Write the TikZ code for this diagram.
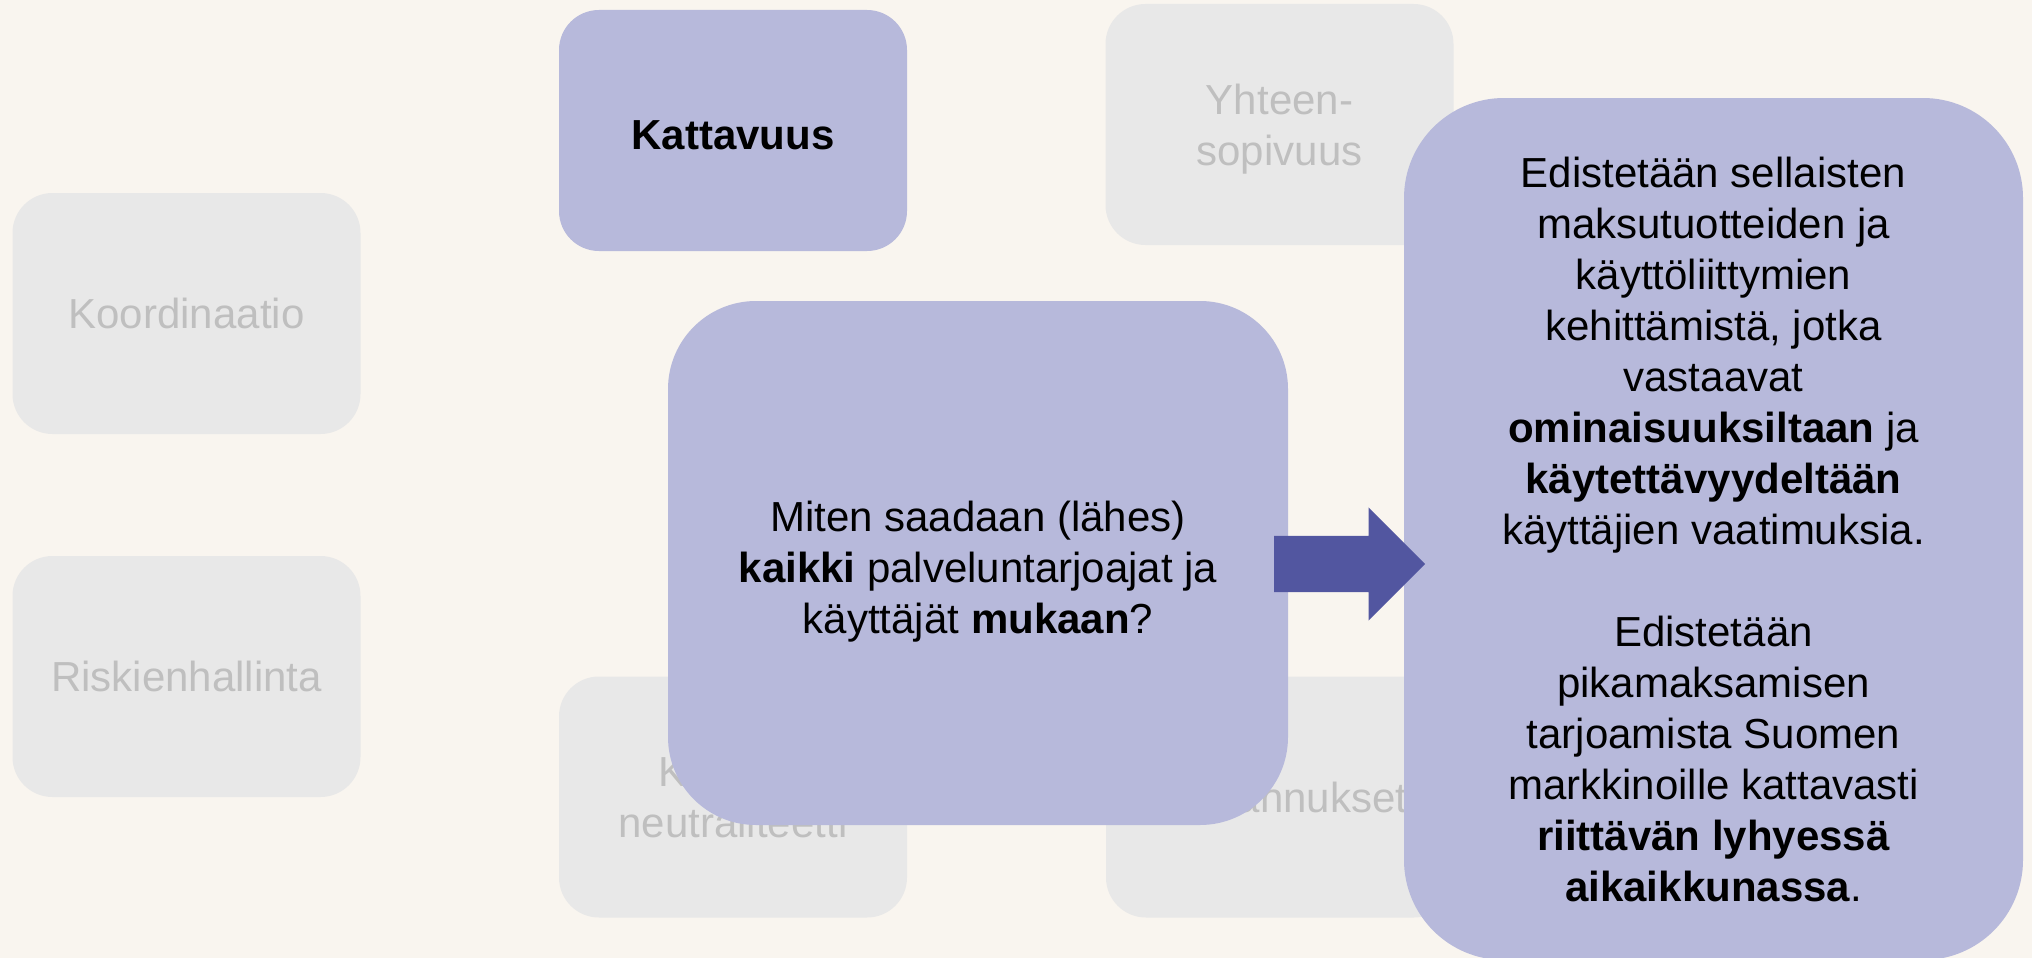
\documentclass[tikz,border=0pt]{standalone}
\usepackage{fontspec}
\setmainfont{Liberation Sans}
\usetikzlibrary{shapes.arrows}
\definecolor{bgcream}{HTML}{F9F5EF}
\definecolor{boxgray}{HTML}{E8E8E8}
\definecolor{textgray}{HTML}{BFBFBF}
\definecolor{boxlilac}{HTML}{B7B9DB}
\definecolor{arrowblue}{HTML}{5256A0}

\begin{document}
\begin{tikzpicture}[
    x=1pt, y=-1pt,
    every node/.style={font=\fontsize{42}{51}\selectfont, align=center, inner sep=0pt},
    topic/.style={rectangle, rounded corners=40pt, fill=boxgray, text=textgray, minimum width=348pt, minimum height=241pt},
    chosen/.style={topic, fill=boxlilac, text=black, font=\fontsize{42}{51}\selectfont\bfseries},
    bigbox/.style={rectangle, fill=boxlilac, text=black},
    blockarrow/.style={single arrow, fill=arrowblue, inner xsep=0pt, inner ysep=28pt, minimum height=151pt, minimum width=113pt, single arrow head extend=28.5pt}
]
% Background
\fill[bgcream] (0,0) rectangle (2032,958);
\useasboundingbox (0,0) rectangle (2032,958);

% Greyed-out topics
\node[topic] (koord) at (186.5,313.5) {Koordinaatio};
\node[topic] (riski) at (186.5,676.5) {Riskienhallinta};
\node[topic] (kilp) at (733,797) {Kilpailu-\\neutraliteetti};
\node[topic] (kust) at (1280,797) {Kustannukset};
\node[topic, text height=91pt] (yhteen) at (1279.5,124.5) {Yhteen-\\sopivuus};

% Selected topic
\node[chosen, text height=38pt] (katt) at (733,130.5) {Kattavuus};

% Question
\node[bigbox, rounded corners=88pt, minimum width=620pt, minimum height=524pt, text height=149pt] (kysymys) at (978,563)
  {Miten saadaan (lähes)\\ \textbf{kaikki} palveluntarjoajat ja\\ käyttäjät \textbf{mukaan}?};

% Answer
\node[bigbox, rounded corners=100pt, minimum width=619pt, minimum height=862pt] (vastaus) at (1713.5,529)
  {Edistetään sellaisten\\ maksutuotteiden ja\\ käyttöliittymien\\ kehittämistä, jotka\\ vastaavat\\
   \textbf{ominaisuuksiltaan} ja\\ \textbf{käytettävyydeltään}\\ käyttäjien vaatimuksia.\\[51pt]
   Edistetään\\ pikamaksamisen\\ tarjoamista Suomen\\ markkinoille kattavasti\\
   \textbf{riittävän lyhyessä}\\ \textbf{aikaikkunassa}.};

% Arrow
\node[blockarrow, anchor=tail] (nuoli) at (1274,564) {};
\end{tikzpicture}
\end{document}
